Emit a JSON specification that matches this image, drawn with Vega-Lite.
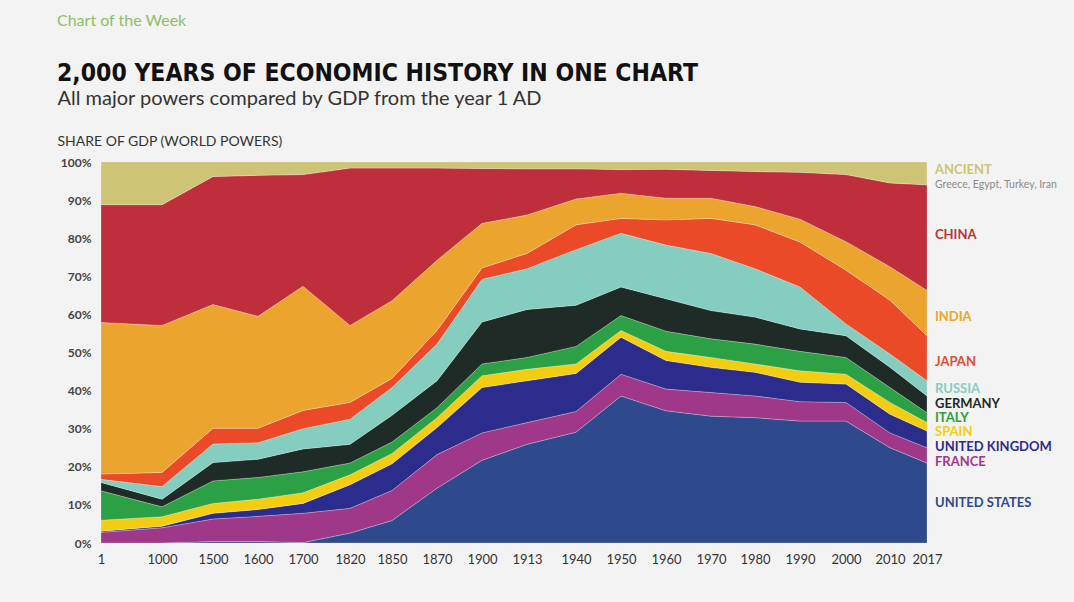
{
  "$schema": "https://vega.github.io/schema/vega-lite/v6.json",
  "width": 826,
  "height": 381,
  "autosize": "none",
  "padding": {"left": 101, "top": 162, "right": 147, "bottom": 59},
  "background": "#f3f3f3",
  "config": {"view": {"stroke": null}, "font": "Lato"},
  "title": {
    "text": "Chart of the Week",
    "subtitle": "2,000 YEARS OF ECONOMIC HISTORY IN ONE CHART",
    "anchor": "start",
    "frame": "group",
    "dx": -44,
    "offset": 3,
    "font": "Lato",
    "fontSize": 16,
    "fontWeight": "normal",
    "color": "#8cc063",
    "subtitleFont": "DejaVu Sans Condensed",
    "subtitleFontSize": 24.5,
    "subtitleFontWeight": "bold",
    "subtitleColor": "#111111",
    "subtitlePadding": 33
  },
  "data": {
    "values": [
      {"year": 1, "country": "United States", "share": 0},
      {"year": 1, "country": "France", "share": 2.8},
      {"year": 1, "country": "United Kingdom", "share": 0.3},
      {"year": 1, "country": "Spain", "share": 2.9},
      {"year": 1, "country": "Italy", "share": 7.7},
      {"year": 1, "country": "Germany", "share": 2.2},
      {"year": 1, "country": "Russia", "share": 0.8},
      {"year": 1, "country": "Japan", "share": 1.4},
      {"year": 1, "country": "India", "share": 39.8},
      {"year": 1, "country": "China", "share": 30.9},
      {"year": 1, "country": "Ancient", "share": 11.2},
      {"year": 1000, "country": "United States", "share": 0},
      {"year": 1000, "country": "France", "share": 4.0},
      {"year": 1000, "country": "United Kingdom", "share": 0.4},
      {"year": 1000, "country": "Spain", "share": 2.5},
      {"year": 1000, "country": "Italy", "share": 2.6},
      {"year": 1000, "country": "Germany", "share": 2.0},
      {"year": 1000, "country": "Russia", "share": 3.3},
      {"year": 1000, "country": "Japan", "share": 3.7},
      {"year": 1000, "country": "India", "share": 38.6},
      {"year": 1000, "country": "China", "share": 31.7},
      {"year": 1000, "country": "Ancient", "share": 11.2},
      {"year": 1500, "country": "United States", "share": 0.4},
      {"year": 1500, "country": "France", "share": 5.9},
      {"year": 1500, "country": "United Kingdom", "share": 1.5},
      {"year": 1500, "country": "Spain", "share": 2.6},
      {"year": 1500, "country": "Italy", "share": 5.9},
      {"year": 1500, "country": "Germany", "share": 4.8},
      {"year": 1500, "country": "Russia", "share": 4.9},
      {"year": 1500, "country": "Japan", "share": 4.1},
      {"year": 1500, "country": "India", "share": 32.5},
      {"year": 1500, "country": "China", "share": 33.6},
      {"year": 1500, "country": "Ancient", "share": 3.8},
      {"year": 1600, "country": "United States", "share": 0.4},
      {"year": 1600, "country": "France", "share": 6.6},
      {"year": 1600, "country": "United Kingdom", "share": 1.8},
      {"year": 1600, "country": "Spain", "share": 2.7},
      {"year": 1600, "country": "Italy", "share": 5.7},
      {"year": 1600, "country": "Germany", "share": 4.8},
      {"year": 1600, "country": "Russia", "share": 4.3},
      {"year": 1600, "country": "Japan", "share": 3.8},
      {"year": 1600, "country": "India", "share": 29.4},
      {"year": 1600, "country": "China", "share": 37.0},
      {"year": 1600, "country": "Ancient", "share": 3.5},
      {"year": 1700, "country": "United States", "share": 0.1},
      {"year": 1700, "country": "France", "share": 7.7},
      {"year": 1700, "country": "United Kingdom", "share": 2.6},
      {"year": 1700, "country": "Spain", "share": 2.8},
      {"year": 1700, "country": "Italy", "share": 5.5},
      {"year": 1700, "country": "Germany", "share": 6.0},
      {"year": 1700, "country": "Russia", "share": 5.3},
      {"year": 1700, "country": "Japan", "share": 4.8},
      {"year": 1700, "country": "India", "share": 32.6},
      {"year": 1700, "country": "China", "share": 29.3},
      {"year": 1700, "country": "Ancient", "share": 3.3},
      {"year": 1820, "country": "United States", "share": 2.6},
      {"year": 1820, "country": "France", "share": 6.5},
      {"year": 1820, "country": "United Kingdom", "share": 6.2},
      {"year": 1820, "country": "Spain", "share": 2.6},
      {"year": 1820, "country": "Italy", "share": 3.1},
      {"year": 1820, "country": "Germany", "share": 4.9},
      {"year": 1820, "country": "Russia", "share": 6.6},
      {"year": 1820, "country": "Japan", "share": 4.4},
      {"year": 1820, "country": "India", "share": 20.2},
      {"year": 1820, "country": "China", "share": 41.3},
      {"year": 1820, "country": "Ancient", "share": 1.6},
      {"year": 1850, "country": "United States", "share": 5.9},
      {"year": 1850, "country": "France", "share": 7.9},
      {"year": 1850, "country": "United Kingdom", "share": 7.0},
      {"year": 1850, "country": "Spain", "share": 2.7},
      {"year": 1850, "country": "Italy", "share": 3.0},
      {"year": 1850, "country": "Germany", "share": 7.0},
      {"year": 1850, "country": "Russia", "share": 7.3},
      {"year": 1850, "country": "Japan", "share": 2.4},
      {"year": 1850, "country": "India", "share": 20.4},
      {"year": 1850, "country": "China", "share": 34.8},
      {"year": 1850, "country": "Ancient", "share": 1.6},
      {"year": 1870, "country": "United States", "share": 14.4},
      {"year": 1870, "country": "France", "share": 8.8},
      {"year": 1870, "country": "United Kingdom", "share": 7.1},
      {"year": 1870, "country": "Spain", "share": 2.6},
      {"year": 1870, "country": "Italy", "share": 2.6},
      {"year": 1870, "country": "Germany", "share": 7.1},
      {"year": 1870, "country": "Russia", "share": 9.6},
      {"year": 1870, "country": "Japan", "share": 3.6},
      {"year": 1870, "country": "India", "share": 18.4},
      {"year": 1870, "country": "China", "share": 24.2},
      {"year": 1870, "country": "Ancient", "share": 1.6},
      {"year": 1900, "country": "United States", "share": 21.7},
      {"year": 1900, "country": "France", "share": 7.2},
      {"year": 1900, "country": "United Kingdom", "share": 11.9},
      {"year": 1900, "country": "Spain", "share": 3.1},
      {"year": 1900, "country": "Italy", "share": 3.1},
      {"year": 1900, "country": "Germany", "share": 11.0},
      {"year": 1900, "country": "Russia", "share": 11.2},
      {"year": 1900, "country": "Japan", "share": 3.0},
      {"year": 1900, "country": "India", "share": 11.7},
      {"year": 1900, "country": "China", "share": 14.4},
      {"year": 1900, "country": "Ancient", "share": 1.7},
      {"year": 1913, "country": "United States", "share": 25.9},
      {"year": 1913, "country": "France", "share": 5.7},
      {"year": 1913, "country": "United Kingdom", "share": 11.0},
      {"year": 1913, "country": "Spain", "share": 3.0},
      {"year": 1913, "country": "Italy", "share": 3.1},
      {"year": 1913, "country": "Germany", "share": 12.6},
      {"year": 1913, "country": "Russia", "share": 10.7},
      {"year": 1913, "country": "Japan", "share": 4.0},
      {"year": 1913, "country": "India", "share": 10.1},
      {"year": 1913, "country": "China", "share": 12.1},
      {"year": 1913, "country": "Ancient", "share": 1.8},
      {"year": 1940, "country": "United States", "share": 29.1},
      {"year": 1940, "country": "France", "share": 5.4},
      {"year": 1940, "country": "United Kingdom", "share": 10.0},
      {"year": 1940, "country": "Spain", "share": 2.5},
      {"year": 1940, "country": "Italy", "share": 4.6},
      {"year": 1940, "country": "Germany", "share": 10.8},
      {"year": 1940, "country": "Russia", "share": 14.6},
      {"year": 1940, "country": "Japan", "share": 6.5},
      {"year": 1940, "country": "India", "share": 6.8},
      {"year": 1940, "country": "China", "share": 7.9},
      {"year": 1940, "country": "Ancient", "share": 1.8},
      {"year": 1950, "country": "United States", "share": 38.6},
      {"year": 1950, "country": "France", "share": 5.7},
      {"year": 1950, "country": "United Kingdom", "share": 9.7},
      {"year": 1950, "country": "Spain", "share": 1.8},
      {"year": 1950, "country": "Italy", "share": 3.9},
      {"year": 1950, "country": "Germany", "share": 7.5},
      {"year": 1950, "country": "Russia", "share": 14.1},
      {"year": 1950, "country": "Japan", "share": 3.9},
      {"year": 1950, "country": "India", "share": 6.6},
      {"year": 1950, "country": "China", "share": 6.2},
      {"year": 1950, "country": "Ancient", "share": 2.0},
      {"year": 1960, "country": "United States", "share": 34.7},
      {"year": 1960, "country": "France", "share": 5.7},
      {"year": 1960, "country": "United Kingdom", "share": 7.5},
      {"year": 1960, "country": "Spain", "share": 2.4},
      {"year": 1960, "country": "Italy", "share": 5.3},
      {"year": 1960, "country": "Germany", "share": 8.5},
      {"year": 1960, "country": "Russia", "share": 14.1},
      {"year": 1960, "country": "Japan", "share": 6.6},
      {"year": 1960, "country": "India", "share": 5.7},
      {"year": 1960, "country": "China", "share": 7.6},
      {"year": 1960, "country": "Ancient", "share": 1.9},
      {"year": 1970, "country": "United States", "share": 33.3},
      {"year": 1970, "country": "France", "share": 6.2},
      {"year": 1970, "country": "United Kingdom", "share": 6.6},
      {"year": 1970, "country": "Spain", "share": 2.6},
      {"year": 1970, "country": "Italy", "share": 4.9},
      {"year": 1970, "country": "Germany", "share": 7.4},
      {"year": 1970, "country": "Russia", "share": 15.0},
      {"year": 1970, "country": "Japan", "share": 9.2},
      {"year": 1970, "country": "India", "share": 5.3},
      {"year": 1970, "country": "China", "share": 7.3},
      {"year": 1970, "country": "Ancient", "share": 2.2},
      {"year": 1980, "country": "United States", "share": 32.9},
      {"year": 1980, "country": "France", "share": 5.7},
      {"year": 1980, "country": "United Kingdom", "share": 6.2},
      {"year": 1980, "country": "Spain", "share": 2.2},
      {"year": 1980, "country": "Italy", "share": 5.2},
      {"year": 1980, "country": "Germany", "share": 7.1},
      {"year": 1980, "country": "Russia", "share": 12.7},
      {"year": 1980, "country": "Japan", "share": 11.5},
      {"year": 1980, "country": "India", "share": 4.8},
      {"year": 1980, "country": "China", "share": 9.2},
      {"year": 1980, "country": "Ancient", "share": 2.5},
      {"year": 1990, "country": "United States", "share": 32.0},
      {"year": 1990, "country": "France", "share": 5.1},
      {"year": 1990, "country": "United Kingdom", "share": 5.1},
      {"year": 1990, "country": "Spain", "share": 3.0},
      {"year": 1990, "country": "Italy", "share": 5.1},
      {"year": 1990, "country": "Germany", "share": 5.9},
      {"year": 1990, "country": "Russia", "share": 11.0},
      {"year": 1990, "country": "Japan", "share": 11.8},
      {"year": 1990, "country": "India", "share": 6.0},
      {"year": 1990, "country": "China", "share": 12.3},
      {"year": 1990, "country": "Ancient", "share": 2.7},
      {"year": 2000, "country": "United States", "share": 32.0},
      {"year": 2000, "country": "France", "share": 4.9},
      {"year": 2000, "country": "United Kingdom", "share": 4.8},
      {"year": 2000, "country": "Spain", "share": 2.6},
      {"year": 2000, "country": "Italy", "share": 4.4},
      {"year": 2000, "country": "Germany", "share": 5.7},
      {"year": 2000, "country": "Russia", "share": 3.1},
      {"year": 2000, "country": "Japan", "share": 14.1},
      {"year": 2000, "country": "India", "share": 7.5},
      {"year": 2000, "country": "China", "share": 17.6},
      {"year": 2000, "country": "Ancient", "share": 3.3},
      {"year": 2010, "country": "United States", "share": 25.0},
      {"year": 2010, "country": "France", "share": 3.9},
      {"year": 2010, "country": "United Kingdom", "share": 4.9},
      {"year": 2010, "country": "Spain", "share": 3.1},
      {"year": 2010, "country": "Italy", "share": 3.9},
      {"year": 2010, "country": "Germany", "share": 5.3},
      {"year": 2010, "country": "Russia", "share": 3.5},
      {"year": 2010, "country": "Japan", "share": 14.1},
      {"year": 2010, "country": "India", "share": 8.8},
      {"year": 2010, "country": "China", "share": 22.0},
      {"year": 2010, "country": "Ancient", "share": 5.5},
      {"year": 2017, "country": "United States", "share": 21.0},
      {"year": 2017, "country": "France", "share": 4.0},
      {"year": 2017, "country": "United Kingdom", "share": 4.4},
      {"year": 2017, "country": "Spain", "share": 2.2},
      {"year": 2017, "country": "Italy", "share": 2.6},
      {"year": 2017, "country": "Germany", "share": 4.4},
      {"year": 2017, "country": "Russia", "share": 4.0},
      {"year": 2017, "country": "Japan", "share": 11.8},
      {"year": 2017, "country": "India", "share": 11.9},
      {"year": 2017, "country": "China", "share": 27.7},
      {"year": 2017, "country": "Ancient", "share": 6.0}
    ]
  },
  "transform": [
    {
      "calculate": "indexof(['United States', 'France', 'United Kingdom', 'Spain', 'Italy', 'Germany', 'Russia', 'Japan', 'India', 'China', 'Ancient'], datum.country)",
      "as": "ord"
    }
  ],
  "layer": [
    {
      "mark": {
        "type": "area",
        "interpolate": "linear",
        "stroke": "#ffffff",
        "strokeWidth": 0.7,
        "strokeOpacity": 0.35
      },
      "encoding": {
        "x": {
          "field": "year",
          "type": "quantitative",
          "scale": {
            "type": "linear",
            "nice": false,
            "zero": false,
            "domain": [1, 1000, 1500, 1600, 1700, 1820, 1850, 1870, 1900, 1913, 1940, 1950, 1960, 1970, 1980, 1990, 2000, 2010, 2017],
            "range": [0, 61, 112, 157, 202, 249, 291, 336, 381, 426, 475, 520, 565, 610, 654, 699, 745, 789, 826]
          },
          "axis": {
            "values": [1, 1000, 1500, 1600, 1700, 1820, 1850, 1870, 1900, 1913, 1940, 1950, 1960, 1970, 1980, 1990, 2000, 2010, 2017],
            "format": "d",
            "labelFont": "Lato",
            "labelFontSize": 13,
            "labelColor": "#333333",
            "labelPadding": 10,
            "labelOverlap": false,
            "labelFlush": false,
            "ticks": false,
            "domain": false,
            "grid": false,
            "title": "All major powers compared by GDP from the year 1 AD",
            "titleFont": "Lato",
            "titleFontSize": 20,
            "titleFontWeight": "normal",
            "titleColor": "#333333",
            "titleAlign": "left",
            "titleBaseline": "alphabetic",
            "titleX": -44,
            "titleY": -439
          }
        },
        "y": {
          "field": "share",
          "type": "quantitative",
          "stack": "zero",
          "scale": {"domain": [0, 100], "nice": false},
          "axis": {
            "values": [0, 10, 20, 30, 40, 50, 60, 70, 80, 90, 100],
            "tickCount": 11,
            "labelExpr": "datum.value + '%'",
            "labelFont": "Lato",
            "labelFontSize": 12,
            "labelFontWeight": "bold",
            "labelColor": "#444444",
            "labelPadding": 10,
            "labelOverlap": false,
            "ticks": false,
            "domain": false,
            "grid": false,
            "title": "SHARE OF GDP (WORLD POWERS)",
            "titleFont": "Lato",
            "titleFontSize": 14,
            "titleFontWeight": "normal",
            "titleColor": "#333333",
            "titleAngle": 0,
            "titleAlign": "left",
            "titleBaseline": "alphabetic",
            "titleX": -44,
            "titleY": -17
          }
        },
        "color": {
          "field": "country",
          "type": "nominal",
          "scale": {
            "domain": ["United States", "France", "United Kingdom", "Spain", "Italy", "Germany", "Russia", "Japan", "India", "China", "Ancient"],
            "range": ["#2e4a8d", "#9f3889", "#2b2c8c", "#f3cd12", "#2ba045", "#1f2b26", "#84cdbf", "#ea4a27", "#eba52f", "#bf2f3b", "#cdc475"]
          },
          "legend": null
        },
        "order": {"field": "ord", "type": "quantitative"}
      }
    },
    {
      "transform": [
        {"filter": "datum.year == 2017"},
        {"stack": "share", "groupby": ["year"], "sort": [{"field": "ord", "order": "ascending"}], "as": ["lo", "hi"]},
        {"calculate": "(datum.lo + datum.hi) / 2", "as": "mid"},
        {"calculate": "upper(datum.country)", "as": "label"}
      ],
      "mark": {
        "type": "text",
        "align": "left",
        "baseline": "middle",
        "dx": 8,
        "dy": {"expr": "datum.country === 'Ancient' || datum.country === 'China' ? -3 : datum.country === 'India' || datum.country === 'Japan' ? 4 : datum.country === 'Spain' ? 5.7 : datum.country === 'Italy' ? 0.4 : datum.country === 'United Kingdom' ? 7.6 : datum.country === 'France' ? 6.5 : datum.country === 'Russia' ? 1 : datum.country === 'Germany' ? -0.5 : 0"},
        "font": "Lato",
        "fontSize": 13,
        "fontWeight": "bold"
      },
      "encoding": {
        "x": {"field": "year", "type": "quantitative"},
        "y": {
          "field": "mid",
          "type": "quantitative",
          "axis": {
            "values": [0, 10, 20, 30, 40, 50, 60, 70, 80, 90, 100],
            "tickCount": 11,
            "labelOverlap": false
          }
        },
        "text": {"field": "label"},
        "color": {"field": "country", "type": "nominal", "legend": null}
      }
    },
    {
      "transform": [
        {"filter": "datum.year == 2017"},
        {"stack": "share", "groupby": ["year"], "sort": [{"field": "ord", "order": "ascending"}], "as": ["lo", "hi"]},
        {"filter": "datum.country === 'Ancient'"},
        {"calculate": "(datum.lo + datum.hi) / 2", "as": "mid"}
      ],
      "mark": {
        "type": "text",
        "align": "left",
        "baseline": "middle",
        "dx": 8,
        "dy": 12,
        "font": "Lato",
        "fontSize": 10.5,
        "color": "#8a8a8a",
        "text": "Greece, Egypt, Turkey, Iran"
      },
      "encoding": {
        "x": {"field": "year", "type": "quantitative"},
        "y": {
          "field": "mid",
          "type": "quantitative",
          "axis": {
            "values": [0, 10, 20, 30, 40, 50, 60, 70, 80, 90, 100],
            "tickCount": 11,
            "labelOverlap": false
          }
        }
      }
    }
  ]
}
